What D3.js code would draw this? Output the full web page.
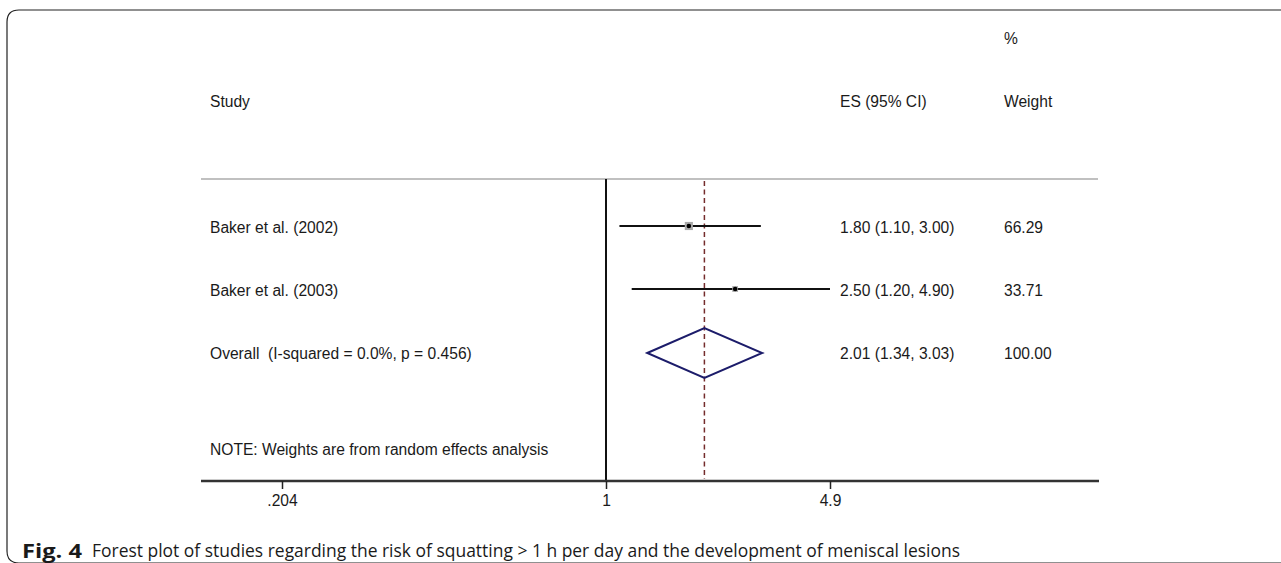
<!DOCTYPE html>
<html>
<head>
<meta charset="utf-8">
<script src="https://cdn.jsdelivr.net/npm/d3@7"></script>
<style>
  html, body { margin: 0; padding: 0; background: #fff; }
  svg { display: block; }
  .lbl { font-family: "Liberation Sans", Arial, sans-serif; font-size: 15.6px; fill: #1a1a1a; white-space: pre; }
  .cap { font-family: "Open Sans", "Noto Sans", sans-serif; fill: #1a1a1a; }
</style>
</head>
<body>
<svg id="chart" width="1281" height="563"></svg>
<script>
// Study-level estimates (risk ratios with 95% CI) and random-effects weights
const studies = ["Baker et al. (2002)", "Baker et al. (2003)"];
const estimates = [1.80, 2.50];
const lower = [1.10, 1.20];
const upper = [3.00, 4.90];
const weights = [66.29, 33.71];

// Pooled estimate
const overallLabel = ["Overall  (I-squared = 0.0%, p = 0.456)"];
const overallES = [2.01];
const overallLower = [1.34];
const overallUpper = [3.03];
const overallWeight = [100.00];

// Axis ticks
const tickValues = [0.204, 1, 4.9];
const tickLabels = [".204", "1", "4.9"];

const headers = ["Study", "ES (95% CI)", "Weight"];
const noteText = "NOTE: Weights are from random effects analysis";

const svg = d3.select("#chart");

// Outer panel frame with rounded left corners
svg.append("path")
  .attr("d", "M1290,10 H19 Q7,10 7,22 V551 Q7,563 19,563 H1290")
  .attr("fill", "none").attr("stroke", "#222").attr("stroke-width", 1.2);

// Log x scale anchored at the null value 1
const x = d3.scaleLog().domain([0.204, 1, 4.9]).range([282, 606, 830]);

// Row positions
const rowY = d3.scaleLinear().domain([0, 1]).range([39, 102]);
const plotTop = 179, axisY = 481;
const colStudy = 210, colES = 840, colW = 1004;

const fmt2 = d3.format(".2f");
const ciText = (e, l, u) => `${fmt2(e)} (${fmt2(l)}, ${fmt2(u)})`;

function label(xp, yp, txt) {
  return svg.append("text").attr("class", "lbl")
    .attr("x", xp).attr("y", yp).attr("dy", ".35em").text(txt);
}

// Header rows
label(colW, rowY(0), "%");
label(colStudy, rowY(1), headers[0]);
label(colES, rowY(1), headers[1]);
label(colW, rowY(1), headers[2]);

// Separator under the header
svg.append("line")
  .attr("x1", 201).attr("x2", 1098).attr("y1", plotTop).attr("y2", plotTop)
  .attr("stroke", "#c0c0c0").attr("stroke-width", 2);

// Null line at 1
svg.append("line")
  .attr("x1", x(1)).attr("x2", x(1)).attr("y1", plotTop).attr("y2", axisY)
  .attr("stroke", "#111").attr("stroke-width", 2);

// Pooled-estimate reference line
svg.append("line")
  .attr("x1", x(overallES[0])).attr("x2", x(overallES[0])).attr("y1", plotTop + 2).attr("y2", axisY - 2)
  .attr("stroke", "#742c2c").attr("stroke-width", 1.5).attr("stroke-dasharray", "5,3.5");

// Study rows
const rows = studies.map((s, i) => ({ s, e: estimates[i], l: lower[i], u: upper[i], w: weights[i], y: rowY(3 + i) }));

const g = svg.append("g");
rows.forEach(r => {
  const cy = r.y - 2;
  g.append("line")
    .attr("x1", x(r.l)).attr("x2", x(r.u)).attr("y1", cy).attr("y2", cy)
    .attr("stroke", "#111").attr("stroke-width", 1.8);
  const side = 1.0 * Math.sqrt(r.w);
  g.append("rect")
    .attr("x", x(r.e) - side / 2).attr("y", cy - side / 2)
    .attr("width", side).attr("height", side)
    .attr("fill", "#a9a9a9");
  g.append("circle").attr("cx", x(r.e)).attr("cy", cy).attr("r", 2.3).attr("fill", "#000");

  label(colStudy, r.y, r.s);
  label(colES, r.y, ciText(r.e, r.l, r.u));
  label(colW, r.y, fmt2(r.w));
});

// Overall diamond
const oy = rowY(5);
const dcy = oy - 1;
const halfH = 25;
svg.append("polygon")
  .attr("points", [
    [x(overallLower[0]), dcy],
    [x(overallES[0]), dcy - halfH],
    [x(overallUpper[0]), dcy],
    [x(overallES[0]), dcy + halfH]
  ].map(p => p.join(",")).join(" "))
  .attr("fill", "none").attr("stroke", "#1c1c6a").attr("stroke-width", 2);

label(colStudy, oy, overallLabel[0]);
label(colES, oy, ciText(overallES[0], overallLower[0], overallUpper[0]));
label(colW, oy, fmt2(overallWeight[0]));

label(colStudy, 450, noteText);

// X axis
const axis = d3.axisBottom(x)
  .tickValues(tickValues)
  .tickFormat((d, i) => tickLabels[i])
  .tickSizeInner(8).tickSizeOuter(0).tickPadding(6);

const ax = svg.append("g").attr("transform", `translate(0,${axisY})`).call(axis);
ax.select(".domain").remove();
ax.insert("line", ":first-child")
  .attr("x1", 201).attr("x2", 1099).attr("y1", 0).attr("y2", 0)
  .attr("stroke", "#333").attr("stroke-width", 2.3);
ax.selectAll(".tick line").attr("stroke", "#222").attr("stroke-width", 1.5);
ax.selectAll(".tick text")
  .attr("font-family", "Liberation Sans, Arial, sans-serif")
  .attr("font-size", 15.6).attr("fill", "#1a1a1a");

// Figure caption
svg.append("text").attr("class", "cap")
  .attr("x", 22).attr("y", 551).attr("dy", ".35em")
  .attr("font-size", 19).attr("font-weight", "bold")
  .attr("textLength", 60).attr("lengthAdjust", "spacingAndGlyphs")
  .text("Fig. 4");
svg.append("text").attr("class", "cap")
  .attr("x", 92).attr("y", 551).attr("dy", ".35em")
  .attr("font-size", 17.5)
  .attr("textLength", 868).attr("lengthAdjust", "spacingAndGlyphs")
  .text("Forest plot of studies regarding the risk of squatting > 1 h per day and the development of meniscal lesions");
</script>
</body>
</html>
